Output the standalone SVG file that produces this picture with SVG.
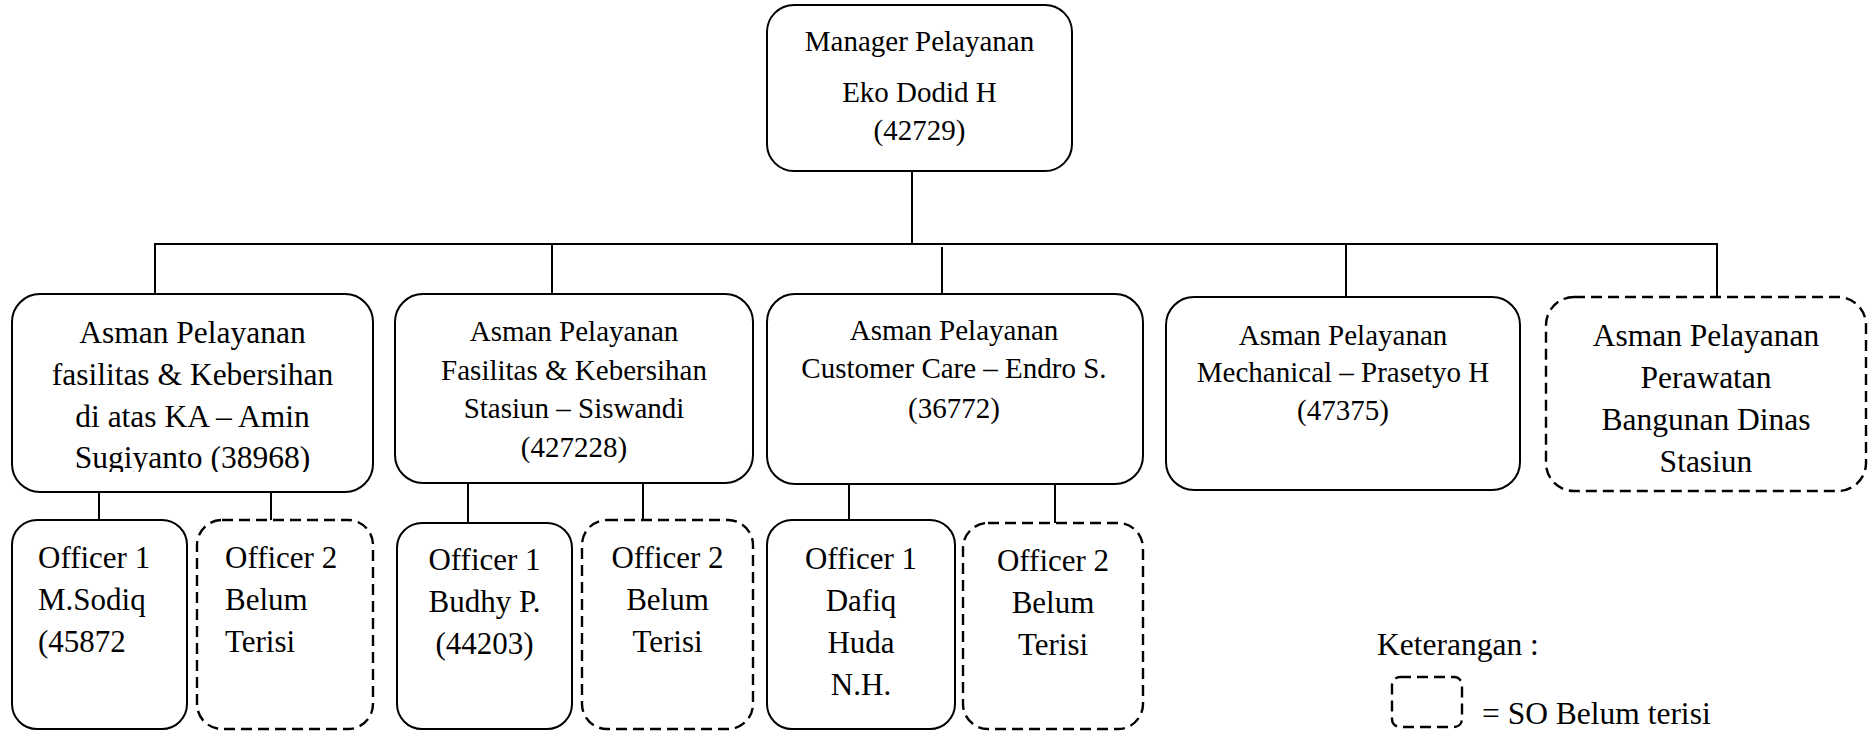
<svg xmlns="http://www.w3.org/2000/svg" width="1870" height="731" viewBox="0 0 1870 731">
<style>
.box{fill:#fff;stroke:#000;stroke-width:2}
.dash{fill:#fff;stroke:#000;stroke-width:2.4;stroke-dasharray:11 6}
.t{font-family:"Liberation Serif","Times New Roman",serif;fill:#000}
.c{text-anchor:middle}
.f29{font-size:29px}
.f31{font-size:31px}
.f315{font-size:31.5px}
#connectors line{stroke:#000;stroke-width:2}
</style>
<defs>
<clipPath id="clip1"><rect x="12" y="294" width="361" height="178"/></clipPath>
</defs>
<rect width="1870" height="731" fill="#fff"/>
<g id="connectors">
<line x1="912" y1="171" x2="912" y2="244"/>
<line x1="154" y1="244" x2="1718" y2="244"/>
<line x1="155" y1="244" x2="155" y2="294"/>
<line x1="552" y1="244" x2="552" y2="294"/>
<line x1="942" y1="247" x2="942" y2="294"/>
<line x1="1346" y1="244" x2="1346" y2="297"/>
<line x1="1717" y1="244" x2="1717" y2="297"/>
<line x1="99" y1="492" x2="99" y2="520"/>
<line x1="271" y1="492" x2="271" y2="520"/>
<line x1="468" y1="483" x2="468" y2="523"/>
<line x1="643" y1="483" x2="643" y2="520"/>
<line x1="849" y1="484" x2="849" y2="520"/>
<line x1="1055" y1="484" x2="1055" y2="523"/>
</g>
<g id="manager">
<rect class="box" x="767" y="5" width="305" height="166" rx="27"/>
<text class="t c" font-size="29" x="919.5" y="51">Manager Pelayanan</text>
<text class="t c" font-size="29" x="919.5" y="102">Eko Dodid H</text>
<text class="t c" font-size="29" x="919.5" y="140">(42729)</text>
</g>
<g id="asman1">
<rect class="box" x="12" y="294" width="361" height="198" rx="28"/>
<g clip-path="url(#clip1)" class="t c f315">
<text x="192.5" y="343">Asman Pelayanan</text>
<text x="192.5" y="385">fasilitas &amp; Kebersihan</text>
<text x="192.5" y="427">di atas KA – Amin</text>
<text x="192.5" y="468">Sugiyanto (38968)</text>
</g>
</g>
<g id="asman2">
<rect class="box" x="395" y="294" width="358" height="189" rx="28"/>
<g class="t c f29">
<text x="574" y="341">Asman Pelayanan</text>
<text x="574" y="380">Fasilitas &amp; Kebersihan</text>
<text x="574" y="418">Stasiun – Siswandi</text>
<text x="574" y="457">(427228)</text>
</g>
</g>
<g id="asman3">
<rect class="box" x="767" y="294" width="376" height="190" rx="28"/>
<g class="t c f29">
<text x="954" y="340">Asman Pelayanan</text>
<text x="954" y="378">Customer Care – Endro S.</text>
<text x="954" y="418">(36772)</text>
</g>
</g>
<g id="asman4">
<rect class="box" x="1166" y="297" width="354" height="193" rx="28"/>
<g class="t c f29">
<text x="1343" y="345">Asman Pelayanan</text>
<text x="1343" y="382">Mechanical – Prasetyo H</text>
<text x="1343" y="420">(47375)</text>
</g>
</g>
<g id="asman5">
<rect class="dash" x="1546" y="297" width="320" height="194" rx="28"/>
<g class="t c f315">
<text x="1706" y="346">Asman Pelayanan</text>
<text x="1706" y="388">Perawatan</text>
<text x="1706" y="430">Bangunan Dinas</text>
<text x="1706" y="472">Stasiun</text>
</g>
</g>
<g id="officer1a">
<rect class="box" x="12" y="520" width="175" height="209" rx="25"/>
<g class="t f31">
<text x="38" y="568">Officer 1</text>
<text x="38" y="610">M.Sodiq</text>
<text x="38" y="652">(45872</text>
</g>
</g>
<g id="officer2a">
<rect class="dash" x="197" y="520" width="176" height="209" rx="25"/>
<g class="t f31">
<text x="225" y="568">Officer 2</text>
<text x="225" y="610">Belum</text>
<text x="225" y="652">Terisi</text>
</g>
</g>
<g id="officer1b">
<rect class="box" x="397" y="523" width="175" height="206" rx="25"/>
<g class="t c f31">
<text x="484.5" y="570">Officer 1</text>
<text x="484.5" y="612">Budhy P.</text>
<text x="484.5" y="654">(44203)</text>
</g>
</g>
<g id="officer2b">
<rect class="dash" x="582" y="520" width="171" height="209" rx="25"/>
<g class="t c f31">
<text x="667.5" y="568">Officer 2</text>
<text x="667.5" y="610">Belum</text>
<text x="667.5" y="652">Terisi</text>
</g>
</g>
<g id="officer1c">
<rect class="box" x="767" y="520" width="188" height="209" rx="25"/>
<g class="t c f31">
<text x="861" y="569">Officer 1</text>
<text x="861" y="611">Dafiq</text>
<text x="861" y="653">Huda</text>
<text x="861" y="695">N.H.</text>
</g>
</g>
<g id="officer2c">
<rect class="dash" x="963" y="523" width="180" height="206" rx="25"/>
<g class="t c f31">
<text x="1053" y="571">Officer 2</text>
<text x="1053" y="613">Belum</text>
<text x="1053" y="655">Terisi</text>
</g>
</g>
<g id="legend">
<text class="t f315" x="1377" y="655">Keterangan :</text>
<rect class="dash" x="1392" y="677" width="70" height="50" rx="8"/>
<text class="t f315" x="1482" y="724">= SO Belum terisi</text>
</g>
</svg>
